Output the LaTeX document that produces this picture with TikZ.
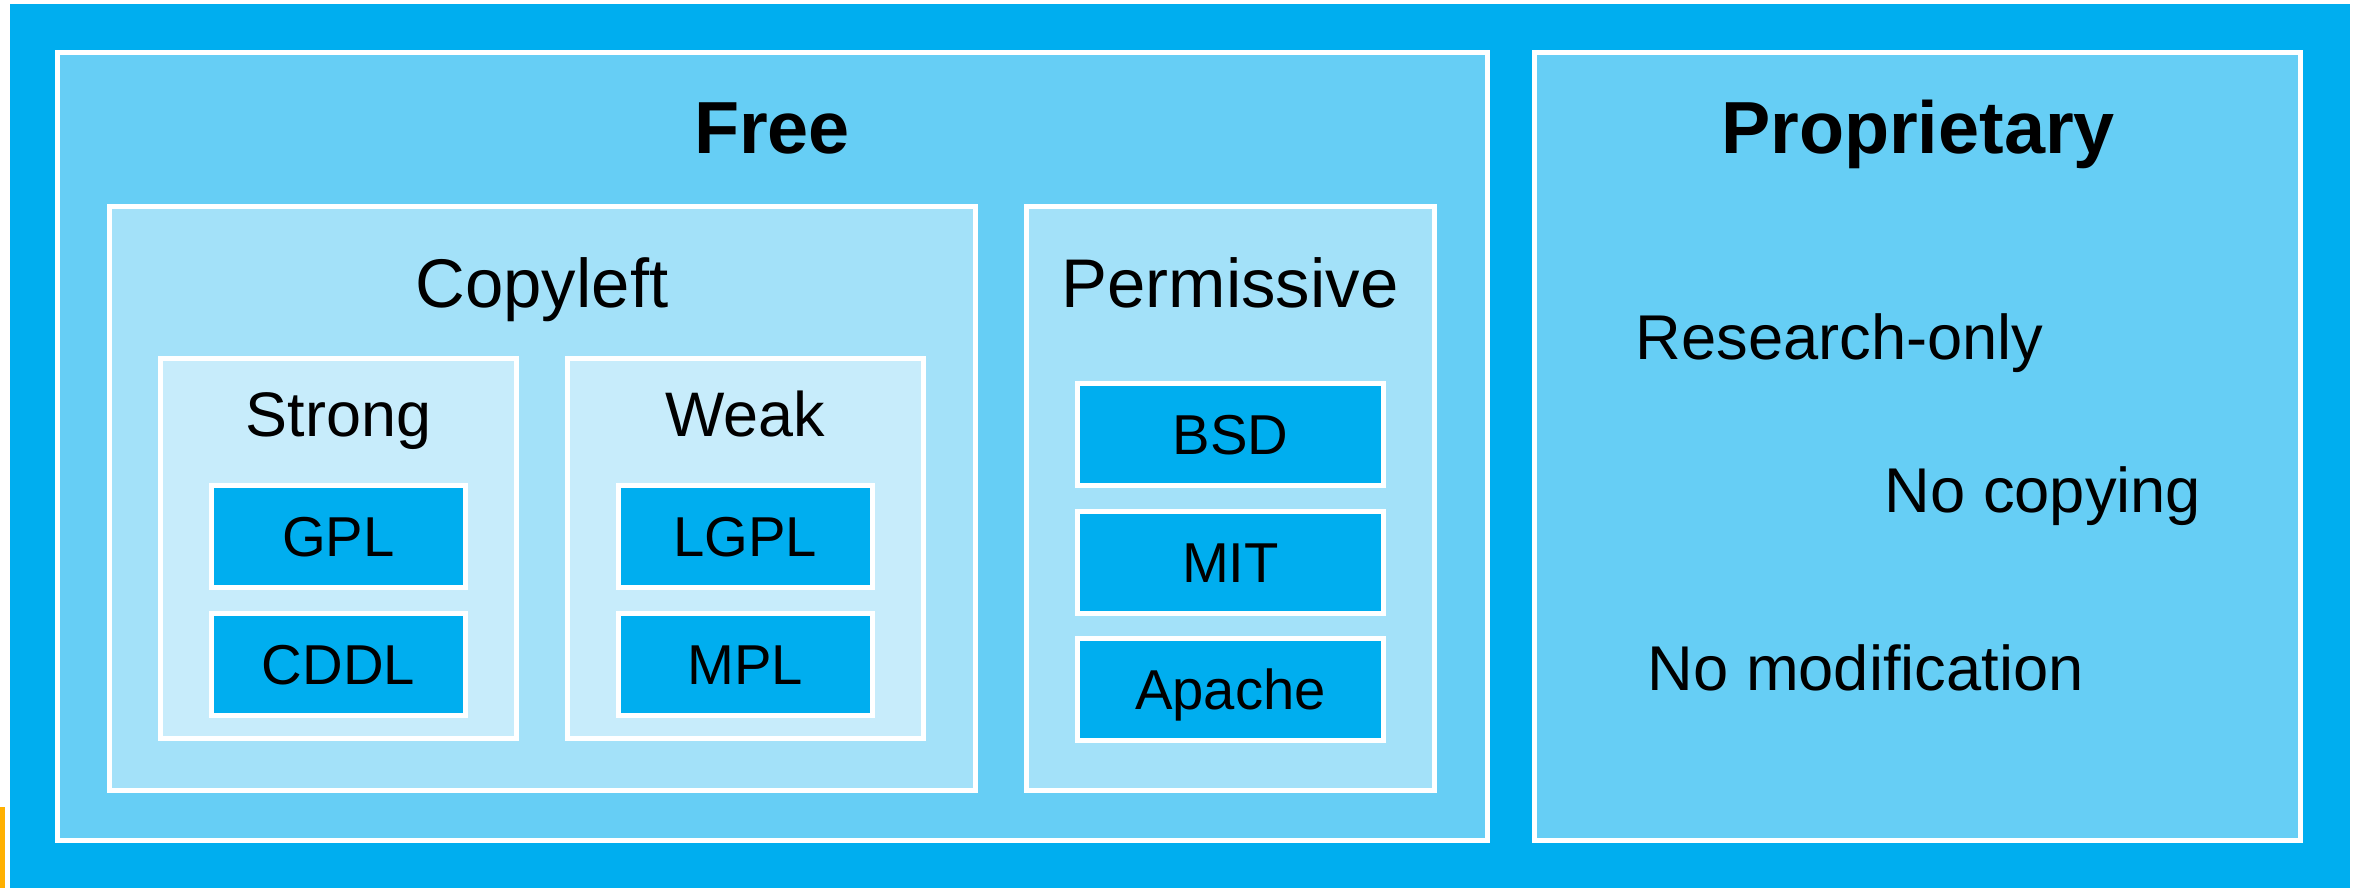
\documentclass[tikz,border=0pt]{standalone}
\usepackage{fontspec}
\setmainfont{Liberation Sans}
\usetikzlibrary{positioning}
\definecolor{frameblue}{HTML}{00AEEF}
\definecolor{midblue}{HTML}{66CEF5}
\definecolor{paleblue}{HTML}{A3E1F9}
\definecolor{lightblue}{HTML}{C7ECFB}
\definecolor{edgeorange}{HTML}{FFB000}
\tikzstyle{panel}=[draw=white, line width=0.5mm, rectangle, inner sep=0pt]
\tikzstyle{group}=[panel, fill=midblue, minimum height=78.8mm]
\tikzstyle{family}=[panel, fill=paleblue, minimum height=58.4mm]
\tikzstyle{kind}=[panel, fill=lightblue, minimum width=35.6mm, minimum height=38mm]
\tikzstyle{licence}=[panel, fill=frameblue, font=\fontsize{16}{19}\selectfont, text height=11.5pt, text depth=0pt, minimum height=10.2mm]
\tikzstyle{group title}=[anchor=base, font=\fontsize{21}{25}\selectfont\bfseries]
\tikzstyle{family title}=[anchor=base, font=\fontsize{19.6}{23}\selectfont]
\tikzstyle{kind title}=[anchor=base, font=\fontsize{17.9}{21}\selectfont]
\tikzstyle{note}=[anchor=base west, inner sep=0pt, font=\fontsize{18}{21}\selectfont]

\begin{document}
\begin{tikzpicture}[x=0.1mm, y=-0.1mm]
	\useasboundingbox (0,0) rectangle (2360,888);
	% Background frame
	\fill[frameblue] (10,4) rectangle (2350,888);
	\fill[edgeorange] (0,807) rectangle (5,888);
	
	% Free and proprietary
	\node[group, minimum width=142.95mm] (free) at (772.25,446) {};
	\node[group, minimum width=76.6mm] (prop) at (1917,446) {};
	\node[group title] (freetitle) at (772,153) {Free};
	\node[group title] (proptitle) at (1918,153) {Proprietary};
	
	% Copyleft and permissive
	\node[family, minimum width=86.6mm] (copyleft) at (542,498) {};
	\node[family, minimum width=40.8mm] (permissive) at (1230.5,498) {};
	\node[family title] (copylefttitle) at (542,307) {Copyleft};
	\node[family title] (permissivetitle) at (1230,307) {Permissive};
	
	% Strong and weak
	\foreach \pos/\label/\name in {
		{(338.5,548)/strong/Strong},
		{(745,548)/weak/Weak}}
	\node[kind] (\label) at \pos {};
	\foreach \pos/\label/\name in {
		{(338.5,436)/strongtitle/Strong},
		{(745,436)/weaktitle/Weak}}
	\node[kind title] (\label) at \pos {\name};
	
	% Licences
	\foreach \pos/\label/\name in {
		{(338.5,536)/gpl/GPL},
		{(338.5,664)/cddl/CDDL},
		{(745,536)/lgpl/LGPL},
		{(745,664)/mpl/MPL}}
	\node[licence, minimum width=25.4mm] (\label) at \pos {\name};
	\foreach \pos/\label/\name in {
		{(1230.5,434.5)/bsd/BSD},
		{(1230.5,562)/mit/MIT},
		{(1230.5,689.5)/apache/Apache}}
	\node[licence, minimum width=30.6mm] (\label) at \pos {\name};
	
	% Proprietary notes
	\foreach \pos/\label/\name in {
		{(1635,359)/research/Research-only},
		{(1884,512)/nocopy/No copying},
		{(1647,690)/nomod/No modification}}
	\node[note] (\label) at \pos {\name};
\end{tikzpicture}
\end{document}
